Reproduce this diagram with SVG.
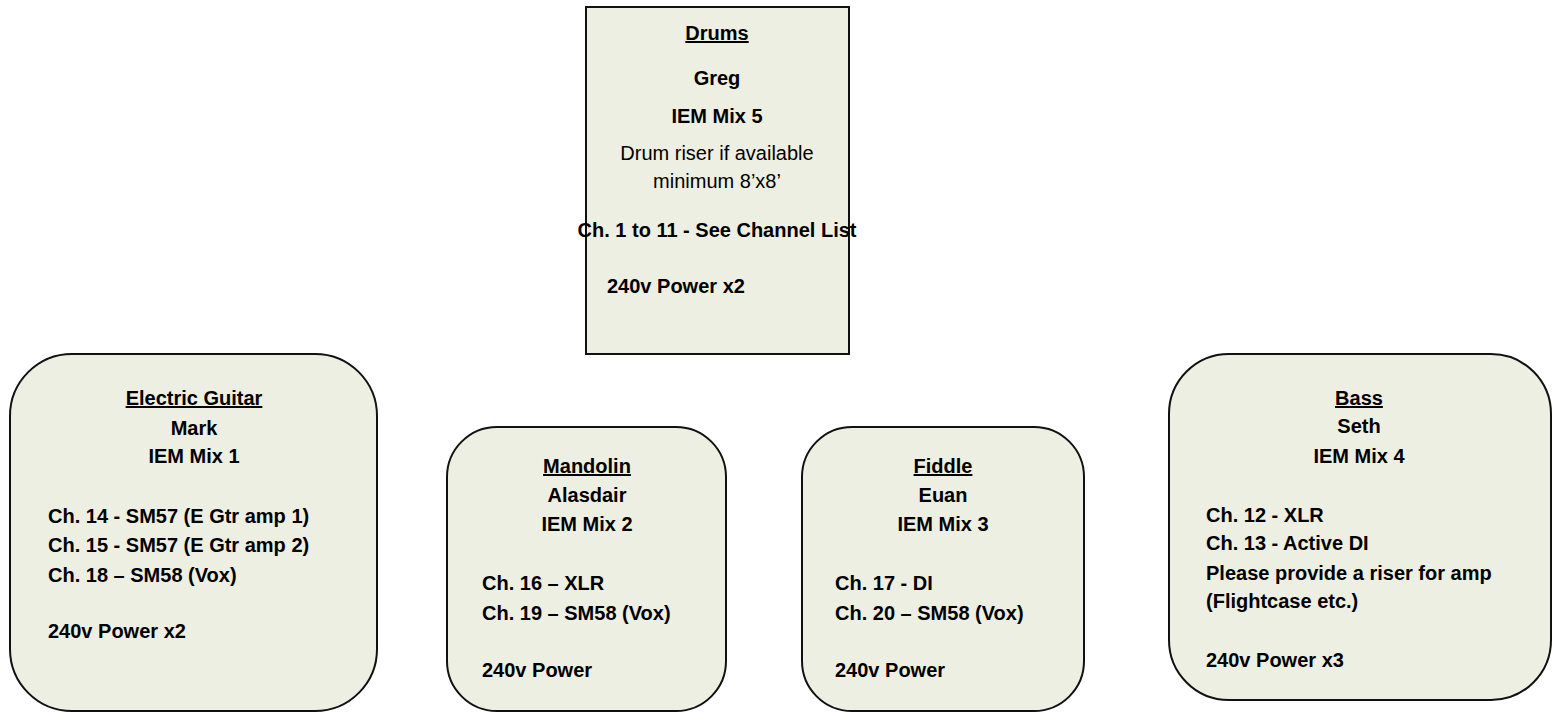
<svg xmlns="http://www.w3.org/2000/svg" width="1559" height="713" viewBox="0 0 1559 713">
<style>
.box{fill:#EDEFE3;stroke:#111;stroke-width:2}
text{font-family:"Liberation Sans",Arial,sans-serif;font-size:20px;font-weight:bold;fill:#000}
.c{text-anchor:middle}
.n{font-weight:normal}
.u{text-decoration:underline}
</style>
<rect width="1559" height="713" fill="#fff"/>
<g id="connectors"/>
<g id="drums">
<rect class="box" x="586" y="7" width="263" height="347"/>
<text class="c u" x="717" y="40">Drums</text>
<text class="c" x="717" y="85">Greg</text>
<text class="c" x="717" y="123">IEM Mix 5</text>
<text class="c n" x="717" y="160">Drum riser if available</text>
<text class="c n" x="717" y="188">minimum 8’x8’</text>
<text class="c" x="717" y="237">Ch. 1 to 11 - See Channel List</text>
<text x="607" y="293">240v Power x2</text>
</g>
<g id="guitar">
<rect class="box" x="10" y="354" width="367" height="357" rx="62" ry="62"/>
<text class="c u" x="194" y="405">Electric Guitar</text>
<text class="c" x="194" y="435">Mark</text>
<text class="c" x="194" y="463">IEM Mix 1</text>
<text x="48" y="523">Ch. 14 - SM57 (E Gtr amp 1)</text>
<text x="48" y="552">Ch. 15 - SM57 (E Gtr amp 2)</text>
<text x="48" y="582">Ch. 18 – SM58 (Vox)</text>
<text x="48" y="638">240v Power x2</text>
</g>
<g id="mandolin">
<rect class="box" x="447" y="427" width="279" height="284" rx="50" ry="50"/>
<text class="c u" x="587" y="473">Mandolin</text>
<text class="c" x="587" y="502">Alasdair</text>
<text class="c" x="587" y="531">IEM Mix 2</text>
<text x="482" y="590">Ch. 16 – XLR</text>
<text x="482" y="620">Ch. 19 – SM58 (Vox)</text>
<text x="482" y="677">240v Power</text>
</g>
<g id="fiddle">
<rect class="box" x="802" y="427" width="282" height="284" rx="50" ry="50"/>
<text class="c u" x="943" y="473">Fiddle</text>
<text class="c" x="943" y="502">Euan</text>
<text class="c" x="943" y="531">IEM Mix 3</text>
<text x="835" y="590">Ch. 17 - DI</text>
<text x="835" y="620">Ch. 20 – SM58 (Vox)</text>
<text x="835" y="677">240v Power</text>
</g>
<g id="bass">
<rect class="box" x="1169" y="354" width="382" height="346" rx="60" ry="60"/>
<text class="c u" x="1359" y="405">Bass</text>
<text class="c" x="1359" y="433">Seth</text>
<text class="c" x="1359" y="463">IEM Mix 4</text>
<text x="1206" y="522">Ch. 12 - XLR</text>
<text x="1206" y="550">Ch. 13 - Active DI</text>
<text x="1206" y="580">Please provide a riser for amp</text>
<text x="1206" y="608">(Flightcase etc.)</text>
<text x="1206" y="667">240v Power x3</text>
</g>
</svg>
